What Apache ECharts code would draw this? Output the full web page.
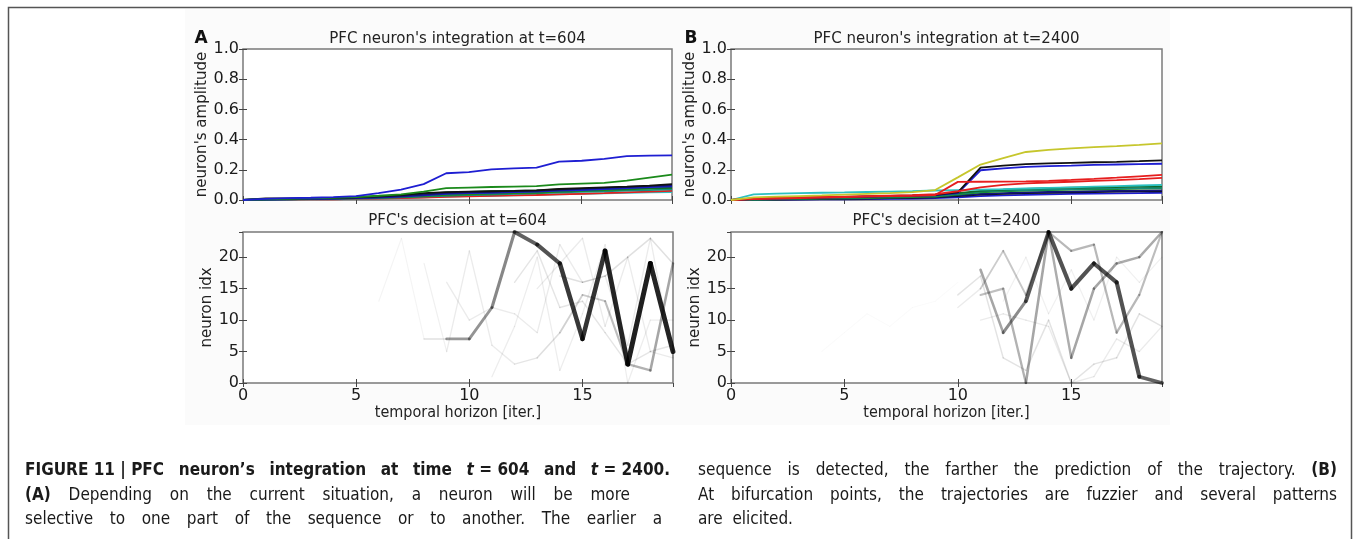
<!DOCTYPE html>
<html><head><meta charset="utf-8">
<script src="https://cdn.jsdelivr.net/npm/echarts@6/dist/echarts.min.js"></script>
<style>
html,body{margin:0;padding:0;background:#fff;}
#wrap{position:relative;width:1355px;height:539px;overflow:hidden;}
#bg{position:absolute;left:185px;top:9px;width:985px;height:416px;background:#fbfbfb;}
#c{position:absolute;left:0;top:0;width:1355px;height:539px;}
</style>
</head><body><div id="wrap"><div id="bg"></div><div id="c"></div></div>
<script>
const N = null;
// ---- axes / ticks ----
const iterations = [0,1,2,3,4,5,6,7,8,9,10,11,12,13,14,15,16,17,18,19];
const iterTicks = [0,5,10,15];
const ampTicks = [0,0.2,0.4,0.6,0.8,1.0];
const idxTicks = [0,5,10,15,20];
const idxMax = 24;

// ---- (A) integration at t=604 : amplitudes per iteration ----
const aCyan   = [0,0.002,0.003,0.005,0.006,0.008,0.010,0.013,0.017,0.022,0.025,0.028,0.031,0.034,0.038,0.041,0.044,0.047,0.050,0.053];
const aRed    = [0,0.002,0.003,0.004,0.005,0.007,0.009,0.012,0.016,0.021,0.024,0.027,0.030,0.033,0.037,0.041,0.045,0.050,0.055,0.060];
const aTeal   = [0,0.002,0.004,0.006,0.008,0.010,0.013,0.017,0.022,0.028,0.032,0.036,0.040,0.044,0.050,0.054,0.058,0.062,0.066,0.070];
const aGreen2 = [0,0.003,0.005,0.007,0.009,0.012,0.015,0.020,0.026,0.034,0.038,0.042,0.045,0.048,0.055,0.060,0.065,0.070,0.075,0.080];
const aDkGreen= [0,0.004,0.007,0.009,0.012,0.016,0.021,0.028,0.038,0.050,0.054,0.058,0.061,0.064,0.070,0.072,0.074,0.076,0.078,0.080];
const aBlue2  = [0,0.003,0.005,0.007,0.009,0.012,0.016,0.022,0.030,0.040,0.045,0.048,0.052,0.055,0.062,0.066,0.072,0.078,0.085,0.090];
const aNavy   = [0,0.004,0.006,0.008,0.010,0.014,0.019,0.026,0.035,0.045,0.050,0.054,0.057,0.060,0.068,0.074,0.080,0.086,0.092,0.097];
const aBlack  = [0,0.010,0.011,0.012,0.014,0.018,0.024,0.032,0.045,0.052,0.055,0.058,0.060,0.064,0.073,0.078,0.083,0.088,0.095,0.105];
const aGreen  = [0,0.005,0.008,0.011,0.014,0.020,0.028,0.037,0.055,0.078,0.082,0.086,0.089,0.092,0.103,0.109,0.113,0.128,0.148,0.168];
const aBlue   = [0,0.008,0.012,0.015,0.019,0.026,0.045,0.068,0.105,0.177,0.185,0.203,0.210,0.214,0.254,0.260,0.273,0.290,0.294,0.296];

// ---- (B) integration at t=2400 ----
const bBlue2  = [0,0.001,0.002,0.003,0.004,0.005,0.006,0.008,0.010,0.012,0.018,0.025,0.030,0.034,0.037,0.040,0.042,0.044,0.046,0.048];
const bBlack2 = [0,0.002,0.003,0.005,0.006,0.008,0.010,0.012,0.014,0.017,0.025,0.035,0.041,0.045,0.048,0.051,0.053,0.055,0.057,0.058];
const bNavy   = [0,0.002,0.004,0.006,0.008,0.010,0.012,0.014,0.017,0.020,0.030,0.040,0.046,0.050,0.053,0.056,0.058,0.060,0.062,0.064];
const bGreen2 = [0,0.003,0.005,0.007,0.009,0.011,0.013,0.016,0.019,0.023,0.035,0.050,0.058,0.063,0.066,0.069,0.071,0.073,0.075,0.077];
const bTeal   = [0,0.003,0.006,0.009,0.012,0.015,0.018,0.021,0.024,0.028,0.040,0.055,0.062,0.066,0.069,0.072,0.075,0.077,0.079,0.081];
const bGreen1 = [0,0.004,0.007,0.010,0.013,0.016,0.019,0.022,0.026,0.030,0.045,0.060,0.068,0.074,0.078,0.081,0.084,0.086,0.088,0.090];
const bCyan   = [0,0.037,0.042,0.045,0.048,0.050,0.053,0.056,0.059,0.063,0.066,0.069,0.072,0.076,0.080,0.084,0.088,0.092,0.096,0.100];
const bBlue   = [0,0.006,0.010,0.013,0.016,0.019,0.022,0.025,0.028,0.032,0.045,0.197,0.210,0.220,0.225,0.228,0.232,0.235,0.238,0.240];
const bBlack  = [0,0.008,0.012,0.015,0.018,0.021,0.024,0.027,0.030,0.034,0.050,0.215,0.228,0.238,0.242,0.246,0.250,0.253,0.257,0.262];
const bRed2   = [0,0.010,0.014,0.017,0.020,0.023,0.026,0.029,0.032,0.038,0.058,0.083,0.100,0.110,0.116,0.121,0.126,0.131,0.138,0.146];
const bRed1   = [0,0.006,0.010,0.013,0.016,0.019,0.022,0.025,0.028,0.033,0.120,0.121,0.122,0.123,0.127,0.133,0.140,0.148,0.157,0.166];
const bYellow = [0,0.018,0.022,0.026,0.030,0.035,0.040,0.045,0.052,0.066,0.150,0.235,0.278,0.318,0.332,0.342,0.350,0.357,0.365,0.375];

// ---- (A) decision at t=604 : predicted neuron index per iteration, and its weight ----
const aDec2  = [N,N,N,N,N,N,13,23,7,N,N,N,N,N,N,N,N,N,N,N];
const aDec3  = [N,N,N,N,N,N,N,N,19,5,21,6,3,4,8,14,13,3,2,19];
const aDec3W = [N,N,N,N,N,N,N,N,N,0.06,0.08,0.08,0.08,0.1,0.13,0.18,0.2,0.25,0.3,0.35];
const aDec4  = [N,N,N,N,N,N,N,N,N,16,10,12,11,8,22,16,17,6,23,4];
const aDec5  = [N,N,N,N,N,N,N,N,N,N,N,1,9,20,2,11,22,0,10,10];
const aDec6  = [N,N,N,N,N,N,N,N,N,N,N,N,16,21,12,13,8,3,5,6];
const aDec7  = [N,N,N,N,N,N,N,N,N,N,N,N,N,15,19,23,9,20,5,4];
const aDec8  = [N,N,N,N,N,N,N,N,N,N,N,N,N,N,17,16,17,20,23,19];
const aDecMain  = [N,N,N,N,N,N,N,N,7,7,7,12,24,22,19,7,21,3,19,5];
const aDecMainW = [N,N,N,N,N,N,N,N,N,0.12,0.4,0.42,0.47,0.62,0.68,0.78,0.8,0.86,0.88,0.86];

// ---- (B) decision at t=2400 ----
const bDec7  = [N,N,N,N,5,8,11,9,12,13,16,N,N,N,N,N,N,N,N,N];
const bDec6  = [N,N,N,N,N,N,N,N,N,N,N,N,13,20,11,18,10,20,16,20];
const bDec5  = [N,N,N,N,N,N,N,N,N,N,N,10,11,10,9,0,1,7,5,9];
const bDec4  = [N,N,N,N,N,N,N,N,N,N,14,17,4,2,10,0,3,4,11,9];
const bDec3  = [N,N,N,N,N,N,N,N,N,N,12,15,21,14,24,21,22,8,14,24];
const bDec3W = [N,N,N,N,N,N,N,N,N,N,N,0.08,0.2,0.22,0.25,0.28,0.28,0.28,0.28,0.26];
const bDec2  = [N,N,N,N,N,N,N,N,N,N,N,14,15,0,24,4,15,19,20,24];
const bDec2W = [N,N,N,N,N,N,N,N,N,N,N,N,0.25,0.3,0.35,0.32,0.35,0.35,0.33,0.33];
const bDecMain  = [N,N,N,N,N,N,N,N,N,N,N,18,8,13,24,15,19,16,1,0];
const bDecMainW = [N,N,N,N,N,N,N,N,N,N,N,N,0.35,0.45,0.65,0.68,0.68,0.68,0.68,0.62];

// ---- texts ----
const titles = ["PFC neuron's integration at t=604","PFC's decision at t=604","PFC neuron's integration at t=2400","PFC's decision at t=2400"];
const captionLines = [
  {text:"*FIGURE~11~|~PFC neuron’s integration at time _t_~=~604 and _t_~=~2400.*", x0:25, x1:670, base:477, justify:true},
  {text:"*(A)* Depending on the current situation, a neuron will be more", x0:25, x1:630, base:502, justify:true},
  {text:"selective to one part of the sequence or to another. The earlier a", x0:25, x1:662, base:526, justify:true},
  {text:"sequence is detected, the farther the prediction of the trajectory. *(B)*", x0:698, x1:1337, base:477, justify:true},
  {text:"At bifurcation points, the trajectories are fuzzier and several patterns", x0:698, x1:1337, base:502, justify:true},
  {text:"are~~elicited.", x0:698, x1:1337, base:526, justify:false}
];

// ================= layout & styles =================
const FONT = "'DejaVu Sans', sans-serif";
const CAPFONT = "'Liberation Sans Narrow','DejaVu Sans Condensed','Liberation Sans',sans-serif";
const COL = {b:'#1e1ed2', g:'#1b8a1b', r:'#e61e1e', c:'#2cc0c0', y:'#c6c62c', k:'#111111', navy:'#14147a', teal:'#168c7e', dg:'#0f6a2a'};
const grids = [
  {left:243, top:49, width:429, height:151},
  {left:243, top:232, width:430, height:151},
  {left:731, top:49, width:431, height:151},
  {left:731, top:232, width:431, height:151}
];
const xAxes = [], yAxes = [], series = [];
const tick = {show:true, inside:true, length:4, lineStyle:{color:'#444', width:1}};

function addAxes(gi, isTop) {
  const xb = {type:'value', gridIndex:gi, min:iterTicks[0], max:iterations[iterations.length-1],
    interval:iterTicks[1]-iterTicks[0], axisLine:{show:false}, axisTick:tick, splitLine:{show:false}};
  xAxes.push(Object.assign({}, xb, {position:'bottom',
    axisLabel:{show:!isTop, color:'#1a1a1a', fontSize:16, fontFamily:FONT, margin:5, showMaxLabel:false},
    name: isTop ? '' : 'temporal horizon [iter.]', nameLocation:'middle', nameGap:21,
    nameTextStyle:{color:'#222', fontSize:16, fontFamily:CAPFONT}}));
  xAxes.push(Object.assign({}, xb, {position:'top', axisLabel:{show:false}}));
  const yt = isTop ? ampTicks : idxTicks;
  const yb = {type:'value', gridIndex:gi, min:yt[0], max: isTop ? ampTicks[ampTicks.length-1] : idxMax,
    interval: yt[1]-yt[0], axisLine:{show:false}, axisTick:tick, splitLine:{show:false}};
  yAxes.push(Object.assign({}, yb, {position:'left',
    axisLabel:{color:'#1a1a1a', fontSize:16, fontFamily:FONT, margin:4, showMaxLabel: isTop,
      formatter: isTop ? (v => v.toFixed(1)) : (v => String(v))},
    name: isTop ? "neuron's amplitude" : 'neuron idx', nameLocation:'middle', nameGap: isTop ? 28 : 23,
    nameTextStyle:{color:'#222', fontSize:15, fontFamily:FONT}}));
  yAxes.push(Object.assign({}, yb, {position:'right', axisLabel:{show:false}}));
}
addAxes(0, true); addAxes(1, false); addAxes(2, true); addAxes(3, false);

function ampLine(gi, values, color) {
  series.push({type:'line', xAxisIndex:gi*2, yAxisIndex:gi*2,
    data: values.map((v,i) => [iterations[i], v]), symbol:'none', showSymbol:false,
    lineStyle:{color:color, width:1.8}, silent:true, animation:false});
}
function decLine(gi, idx, w) {
  for (let i = 1; i < idx.length; i++) {
    if (idx[i-1] == null || idx[i] == null) continue;
    const a = Array.isArray(w) ? w[i] : w;
    series.push({type:'line', xAxisIndex:gi*2, yAxisIndex:gi*2,
      data: [[iterations[i-1], idx[i-1]], [iterations[i], idx[i]]], symbol:'none', showSymbol:false,
      lineStyle:{color:'rgba(0,0,0,' + a + ')', width:1 + 4.5*a, cap:'round', join:'round'},
      silent:true, animation:false});
  }
}
// A top
[[aCyan,COL.c],[aRed,COL.r],[aTeal,COL.teal],[aGreen2,COL.g],[aDkGreen,COL.dg],[aBlue2,COL.b],
 [aNavy,COL.navy],[aBlack,COL.k],[aGreen,COL.g],[aBlue,COL.b]].forEach(p => ampLine(0, p[0], p[1]));
// A bottom
decLine(1, aDec2, 0.045); decLine(1, aDec4, 0.08); decLine(1, aDec5, 0.07); decLine(1, aDec6, 0.1);
decLine(1, aDec7, 0.08); decLine(1, aDec8, 0.12); decLine(1, aDec3, aDec3W); decLine(1, aDecMain, aDecMainW);
// B top
[[bBlue2,COL.b],[bBlack2,COL.k],[bNavy,COL.navy],[bGreen2,COL.g],[bTeal,COL.teal],[bGreen1,COL.dg],
 [bCyan,COL.c],[bBlue,COL.b],[bBlack,COL.k],[bRed2,COL.r],[bRed1,COL.r],[bYellow,COL.y]].forEach(p => ampLine(2, p[0], p[1]));
// B bottom
decLine(3, bDec7, 0.02); decLine(3, bDec6, 0.06); decLine(3, bDec5, 0.08); decLine(3, bDec4, 0.11);
decLine(3, bDec3, bDec3W); decLine(3, bDec2, bDec2W); decLine(3, bDecMain, bDecMainW);

// ---------- graphic texts ----------
const graphics = [];
const titlePos = [[457.5,39],[457.5,221],[946.5,39],[946.5,221]];
titles.forEach((t,i) => graphics.push({type:'text', x:titlePos[i][0], y:titlePos[i][1], silent:true,
  style:{text:t, font:'15px ' + FONT, fill:'#222', align:'center', verticalAlign:'middle'}}));
graphics.push({type:'text', x:201, y:39, silent:true, style:{text:'A', font:'bold 17px ' + FONT, fill:'#111', align:'center', verticalAlign:'middle'}});
graphics.push({type:'text', x:691, y:39, silent:true, style:{text:'B', font:'bold 17px ' + FONT, fill:'#111', align:'center', verticalAlign:'middle'}});
// frame
graphics.push({type:'polyline', silent:true, shape:{points:[[8.5,539],[8.5,7.5],[1351.5,7.5],[1351.5,539]]},
  style:{stroke:'#555', lineWidth:1.5, fill:null}});

// caption (justified)
const mctx = document.createElement('canvas').getContext('2d');
function fontOf(b, it) { return (it ? 'italic ' : '') + (b ? 'bold ' : '') + '17px ' + CAPFONT; }
captionLines.forEach(line => {
  let bold = false, ital = false;
  const words = line.text.split(' ').map(tok => {
    const runs = []; let cur = '';
    const flush = () => { if (cur) { runs.push({t:cur, b:bold, i:ital}); cur = ''; } };
    for (const ch of tok) {
      if (ch === '*') { flush(); bold = !bold; }
      else if (ch === '_') { flush(); ital = !ital; }
      else cur += (ch === '~' ? ' ' : ch);
    }
    flush();
    let w = 0;
    runs.forEach(r => { mctx.font = fontOf(r.b, r.i); r.w = mctx.measureText(r.t).width; w += r.w; });
    return {runs, w};
  });
  const total = words.reduce((s,w) => s + w.w, 0);
  mctx.font = fontOf(false, false);
  const gap = line.justify && words.length > 1 ? (line.x1 - line.x0 - total) / (words.length - 1) : mctx.measureText(' ').width;
  let x = line.x0;
  words.forEach(w => {
    w.runs.forEach(r => {
      graphics.push({type:'text', x:x, y:line.base - 6, silent:true,
        style:{text:r.t, font:fontOf(r.b, r.i), fill:'#1a1a1a', align:'left', verticalAlign:'middle'}});
      x += r.w;
    });
    x += gap;
  });
});

const chart = echarts.init(document.getElementById('c'), null, {renderer:'canvas'});
chart.setOption({
  backgroundColor:'transparent',
  animation:false,
  textStyle:{fontFamily:FONT},
  grid: grids.map(g => Object.assign({show:true, backgroundColor:'#ffffff', borderColor:'#7a7a7a', borderWidth:1.5,
    containLabel:false, outerBoundsMode:'none'}, g)),
  xAxis: xAxes,
  yAxis: yAxes,
  series: series,
  graphic: graphics
});
</script>
</body></html>
